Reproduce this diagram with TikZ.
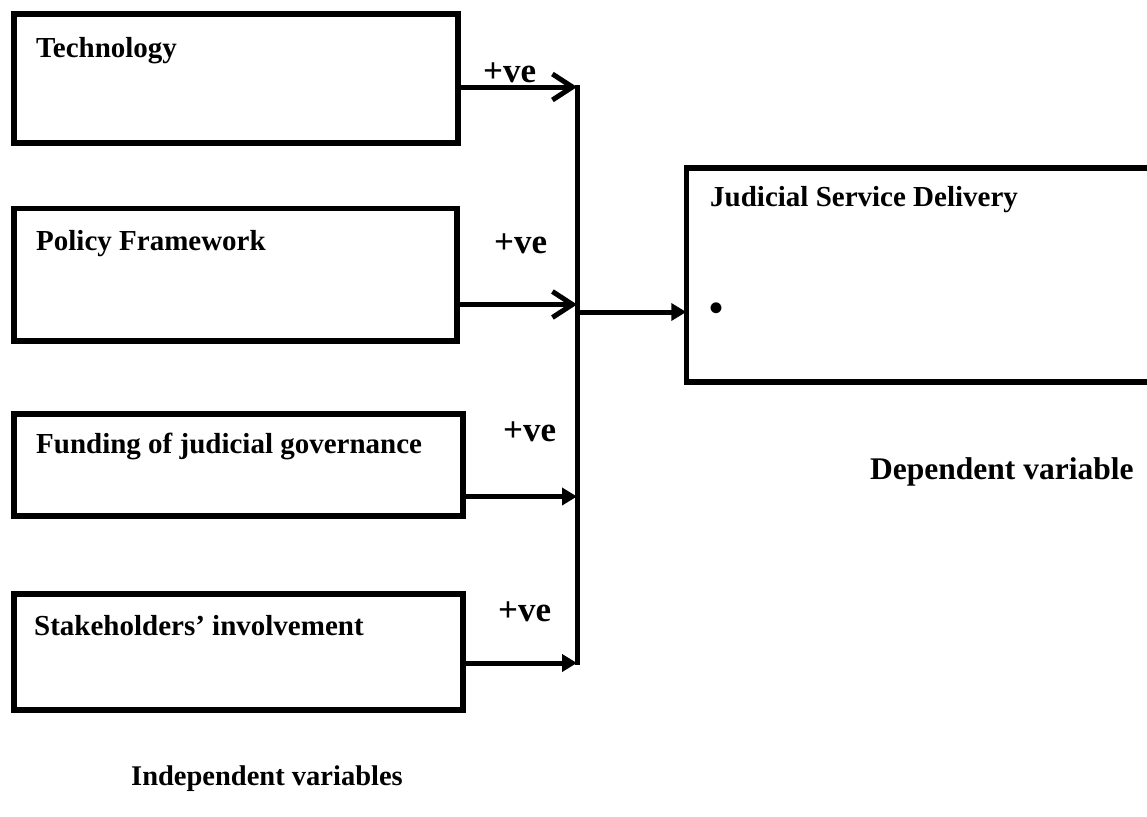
\documentclass[tikz,border=0pt]{standalone}
\usepackage{fontspec}
\setmainfont{Liberation Serif}
\usetikzlibrary{arrows.meta,calc}
\begin{document}
\begin{tikzpicture}[x=1pt,y=-1pt,
  varbox/.style={draw,line width=5.5pt,rectangle,inner sep=0pt,outer sep=0pt},
  lbl/.style={anchor=base west,inner sep=0pt,font=\fontsize{29}{34}\selectfont\bfseries},
  sign/.style={anchor=base west,inner sep=0pt,font=\fontsize{35}{40}\selectfont\bfseries},
  captext/.style={anchor=base west,inner sep=0pt,font=\fontsize{30}{36}\selectfont\bfseries},
  link/.style={line width=5pt},
  openhead/.style={link,-{Straight Barb[length=20pt,width=26pt,line width=5pt]}},
  fillhead/.style={link,-{Triangle[length=15pt,width=17pt]}}]
\useasboundingbox (0,0) rectangle (1147,816);
\clip (0,0) rectangle (1147,816);
% boxes
\node[varbox,minimum width=444pt,minimum height=129pt] (tech) at (236,78.5) {};
\node[varbox,minimum width=443pt,minimum height=132.5pt] (pol) at (235.5,274.75) {};
\node[varbox,minimum width=449pt,minimum height=102pt] (fund) at (238.5,465) {};
\node[varbox,minimum width=449pt,minimum height=116pt] (stake) at (238.5,652) {};
\node[varbox,minimum width=483.5pt,minimum height=214pt] (jsd) at (928,275) {};
% labels
\node[lbl] (techL) at (36,57) {Technology};
\node[lbl] (polL) at (36,250) {Policy Framework};
\node[lbl] (fundL) at (36,453) {Funding of judicial governance};
\node[lbl] (stakeL) at (34,635) {Stakeholders’ involvement};
\node[lbl] (jsdL) at (710,206) {Judicial Service Delivery};
\node[lbl,anchor=center,font=\fontsize{40}{44}\selectfont\bfseries] (dot) at (716,312) {•};
% +ve labels
\node[sign] (s1) at (483,82) {+ve};
\node[sign] (s2) at (494,253) {+ve};
\node[sign] (s3) at (503,441) {+ve};
\node[sign] (s4) at (498,621) {+ve};
% captions
\node[captext,font=\fontsize{31.5}{36}\selectfont\bfseries] (dep) at (870,479) {Dependent variable};
\node[captext,font=\fontsize{28.5}{34}\selectfont\bfseries] (indep) at (131,785) {Independent variables};
% bus
\coordinate (b1) at (577,87);
\coordinate (b2) at (577,304.5);
\coordinate (b3) at (577,496.5);
\coordinate (b4) at (577,663);
\coordinate (btop) at (577,85);
\coordinate (bbot) at (577,665);
\coordinate (bout) at (577,312);
\draw[link] (btop) -- (bbot);
\draw[openhead] (tech.east |- b1) -- (b1);
\draw[openhead] (pol.east |- b2) -- (b2);
\draw[fillhead] (fund.east |- b3) -- (b3);
\draw[fillhead] (stake.east |- b4) -- (b4);
\draw[fillhead] (bout) -- (jsd.west |- bout);
\end{tikzpicture}
\end{document}
